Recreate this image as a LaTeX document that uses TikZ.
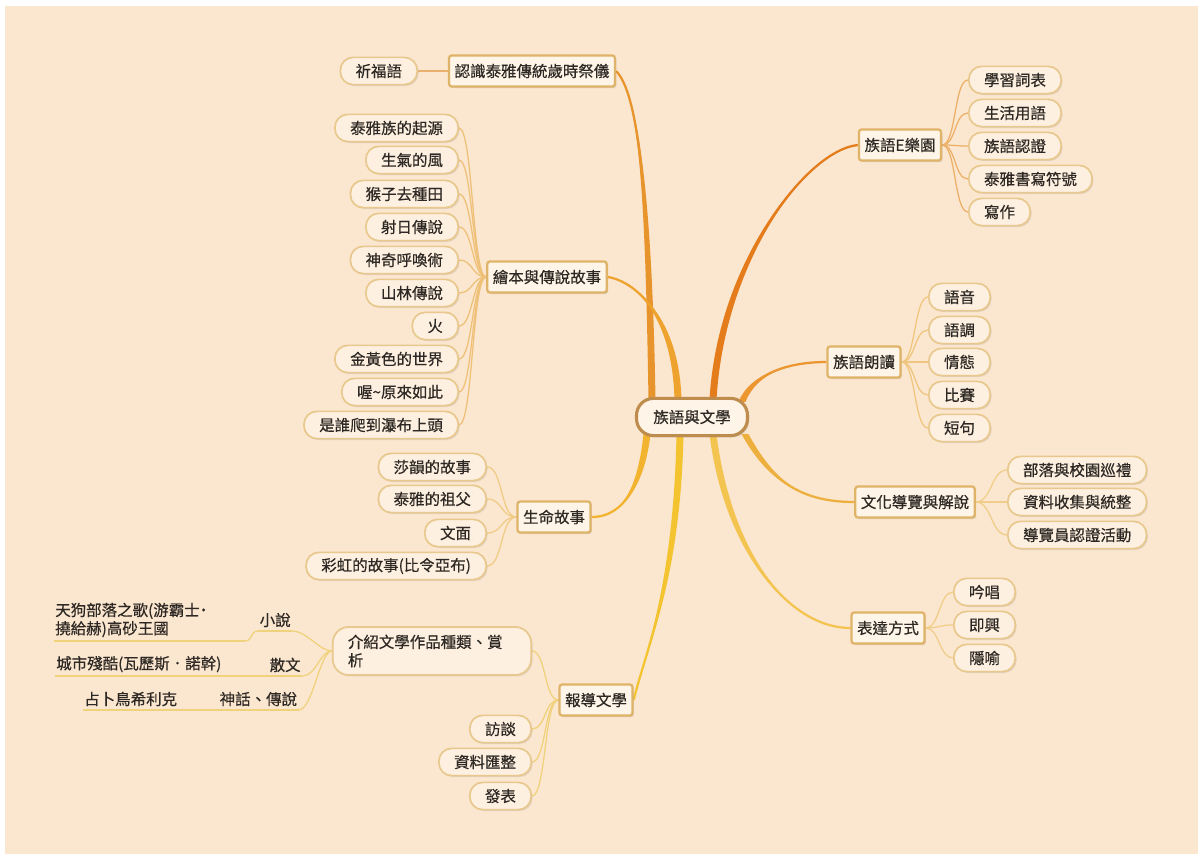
\documentclass[tikz,border=0pt]{standalone}
\usepackage{fontspec}
\setmainfont{Noto Sans CJK TC}[FakeBold=0.5]
\usetikzlibrary{calc,shadows}
\pgfdeclarelayer{bg}
\pgfsetlayers{bg,main}

\definecolor{peach}{RGB}{251,230,207}
\definecolor{ink}{RGB}{45,40,35}
\definecolor{boxfill}{RGB}{254,244,231}
\definecolor{pillfill}{RGB}{253,240,224}
\definecolor{hubline}{RGB}{190,140,76}
\definecolor{topline}{RGB}{224,180,104}
\definecolor{pillline}{RGB}{232,200,140}
\definecolor{br1}{RGB}{232,148,44}
\definecolor{br2}{RGB}{238,163,46}
\definecolor{br3}{RGB}{228,124,28}
\definecolor{br4}{RGB}{236,150,48}
\definecolor{br5}{RGB}{242,180,46}
\definecolor{br6}{RGB}{244,196,48}
\definecolor{br7}{RGB}{243,196,80}
\definecolor{br8}{RGB}{237,176,62}
\definecolor{tw1}{RGB}{232,178,110}
\definecolor{tw2}{RGB}{238,192,120}
\definecolor{tw3}{RGB}{236,176,104}
\definecolor{tw4}{RGB}{240,198,126}
\definecolor{tw5}{RGB}{240,204,134}
\definecolor{tw6}{RGB}{240,210,124}
\definecolor{tw7}{RGB}{240,206,138}

\tikzset{
  hub/.style={draw=hubline, line width=2.2pt, fill=boxfill, rounded corners=12pt, minimum height=0.93cm, inner xsep=0.42cm,
    drop shadow={opacity=0.3, shadow xshift=1.2pt, shadow yshift=-1.2pt}},
  topic/.style={draw=topline, line width=1.6pt, fill=boxfill, rounded corners=2pt, minimum height=0.78cm, inner xsep=0.14cm,
    drop shadow={opacity=0.25, shadow xshift=1pt, shadow yshift=-1pt}},
  pill/.style={draw=pillline, line width=1.2pt, fill=pillfill, rounded corners=0.32cm, minimum height=0.68cm, inner xsep=0.38cm,
    drop shadow={opacity=0.2, shadow xshift=1pt, shadow yshift=-1pt}},
  twig/.style={line width=0.9pt},
  ul/.style={inner xsep=1pt, inner ysep=2.5pt, append after command={(\tikzlastnode.south west) edge[twig, tw6] (\tikzlastnode.south east)}}
}

\newcommand{\limb}[5]{%
  \fill[#1] ($(#2)+(-3.5,0)$) .. controls +#3 and +#4 .. (#5) .. controls +#4 and +#3 .. ($(#2)+(3.5,0)$) -- cycle;
  \draw[#1, line width=1.6pt] (#2) .. controls +#3 and +#4 .. (#5);}

\begin{document}
\begin{tikzpicture}[x=0.025cm, y=-0.025cm, text=ink, font=\fontsize{11}{13}\selectfont]
\useasboundingbox (0,0) rectangle (1198,854);
\begin{pgfonlayer}{bg}
\fill[peach] (5,6) rectangle (1198,854);
\end{pgfonlayer}

\node[hub] (hub) at (692,417) {族語與文學};

\node[topic] (rit) at (532,71) {認識泰雅傳統歲時祭儀};
\node[pill, anchor=east] (pray) at (418,71) {祈福語};

\node[topic] (tale) at (547,277) {繪本與傳說故事};
\node[pill, anchor=east] (t1) at (459,128) {泰雅族的起源};
\node[pill, anchor=east] (t2) at (459,160) {生氣的風};
\node[pill, anchor=east] (t3) at (459,194) {猴子去種田};
\node[pill, anchor=east] (t4) at (459,227) {射日傳說};
\node[pill, anchor=east] (t5) at (459,260) {神奇呼喚術};
\node[pill, anchor=east] (t6) at (459,293) {山林傳說};
\node[pill, anchor=east] (t7) at (459,326) {火};
\node[pill, anchor=east] (t8) at (459,359) {金黃色的世界};
\node[pill, anchor=east] (t9) at (459,392) {喔\textasciitilde 原來如此};
\node[pill, anchor=east] (t10) at (459,425) {是誰爬到瀑布上頭};

\node[topic] (life) at (554,517) {生命故事};
\node[pill, anchor=east] (l1) at (487,467) {莎韻的故事};
\node[pill, anchor=east] (l2) at (487,499) {泰雅的祖父};
\node[pill, anchor=east] (l3) at (487,533) {文面};
\node[pill, anchor=east] (l4) at (487,566) {彩虹的故事(比令亞布)};

\node[topic] (rep) at (596,700) {報導文學};
\node[pill, anchor=east, text width=4.2cm, align=left, minimum height=1.2cm, rounded corners=0.4cm] (intro) at (532,651) {介紹文學作品種類、賞\\析};
\node[pill, anchor=east] (r1) at (532,729) {訪談};
\node[pill, anchor=east] (r2) at (532,762) {資料匯整};
\node[pill, anchor=east] (r3) at (532,796) {發表};

\node[ul, anchor=south west] (nov) at (258,631) {小說};
\node[ul, anchor=south east, text width=4.7cm, align=left] (nov1) at (245,641) {天狗部落之歌(游霸士˙\\撓給赫)高砂王國};
\node[ul, anchor=south west] (pro) at (268,676) {散文};
\node[ul, anchor=south east, text width=5cm, align=left] (pro1) at (258,676) {城市殘酷(瓦歷斯．諾幹)};
\node[ul, anchor=south west] (myth) at (218,710) {神話、傳說};
\node[ul, anchor=south east, text width=3.1cm, align=left] (myth1) at (210,710) {占卜鳥希利克};

\node[topic] (eland) at (900,145) {族語E樂園};
\node[pill, anchor=west] (e1) at (968,80) {學習詞表};
\node[pill, anchor=west] (e2) at (968,113) {生活用語};
\node[pill, anchor=west] (e3) at (968,146) {族語認證};
\node[pill, anchor=west] (e4) at (968,179) {泰雅書寫符號};
\node[pill, anchor=west] (e5) at (968,212) {寫作};

\node[topic] (read) at (864,362) {族語朗讀};
\node[pill, anchor=west] (d1) at (928,297) {語音};
\node[pill, anchor=west] (d2) at (928,330) {語調};
\node[pill, anchor=west] (d3) at (928,362) {情態};
\node[pill, anchor=west] (d4) at (928,395) {比賽};
\node[pill, anchor=west] (d5) at (928,428) {短句};

\node[topic] (tour) at (915,502) {文化導覽與解說};
\node[pill, anchor=west] (g1) at (1007,470) {部落與校園巡禮};
\node[pill, anchor=west] (g2) at (1007,502) {資料收集與統整};
\node[pill, anchor=west] (g3) at (1007,535) {導覽員認證活動};

\node[topic] (expr) at (888,628) {表達方式};
\node[pill, anchor=west] (x1) at (953,592) {吟唱};
\node[pill, anchor=west] (x2) at (953,625) {即興};
\node[pill, anchor=west] (x3) at (953,658) {隱喻};

\coordinate (s1) at ($(hub.north)+(-40,3)$);
\coordinate (s2) at ($(hub.north)+(-14,3)$);
\coordinate (s3) at ($(hub.north)+(21,3)$);
\coordinate (s4) at ($(hub.north)+(50,5)$);
\coordinate (s5) at ($(hub.south)+(-45,-3)$);
\coordinate (s6) at ($(hub.south)+(-12,-3)$);
\coordinate (s7) at ($(hub.south)+(21,-3)$);
\coordinate (s8) at ($(hub.south)+(53,-3)$);

\begin{pgfonlayer}{bg}
\limb{br1}{s1}{(-3,-180)}{(25,25)}{rit.east}
\limb{br2}{s2}{(-2,-80)}{(30,5)}{tale.east}
\limb{br3}{s3}{(8,-140)}{(-50,5)}{eland.west}
\limb{br4}{s4}{(12,-30)}{(-35,0)}{read.west}
\limb{br5}{s5}{(-5,45)}{(35,0)}{life.east}
\limb{br6}{s6}{(-3,150)}{(12,-50)}{rep.east}
\limb{br7}{s7}{(15,120)}{(-60,0)}{expr.west}
\limb{br8}{s8}{(25,45)}{(-55,0)}{tour.west}

\draw[twig, tw1] (rit.west) -- (pray.east);
\foreach \i in {1,...,10}
  \draw[twig, tw2] (tale.west) .. controls +(-14,0) and +(14,0) .. (t\i.east);
\foreach \i in {1,...,4}
  \draw[twig, tw5] (life.west) .. controls +(-16,0) and +(16,0) .. (l\i.east);
\foreach \n in {intro,r1,r2,r3}
  \draw[twig, tw6] (rep.west) .. controls +(-14,0) and +(14,0) .. (\n.east);
\draw[twig, tw6] (nov1.south east) .. controls +(8,0) and +(-8,0) .. (nov.south west);
\draw[twig, tw6] (pro1.south east) -- (pro.south west);
\draw[twig, tw6] (myth1.south east) -- (myth.south west);
\foreach \n in {nov,pro,myth}
  \draw[twig, tw6] (\n.south east) .. controls +(14,0) and +(-12,0) .. (intro.west);
\foreach \i in {1,...,5}
  \draw[twig, tw3] (eland.east) .. controls +(14,0) and +(-14,0) .. (e\i.west);
\foreach \i in {1,...,5}
  \draw[twig, tw4] (read.east) .. controls +(14,0) and +(-14,0) .. (d\i.west);
\foreach \i in {1,...,3}
  \draw[twig, tw7] (tour.east) .. controls +(16,0) and +(-16,0) .. (g\i.west);
\foreach \i in {1,...,3}
  \draw[twig, tw7] (expr.east) .. controls +(14,0) and +(-14,0) .. (x\i.west);
\end{pgfonlayer}
\end{tikzpicture}
\end{document}
